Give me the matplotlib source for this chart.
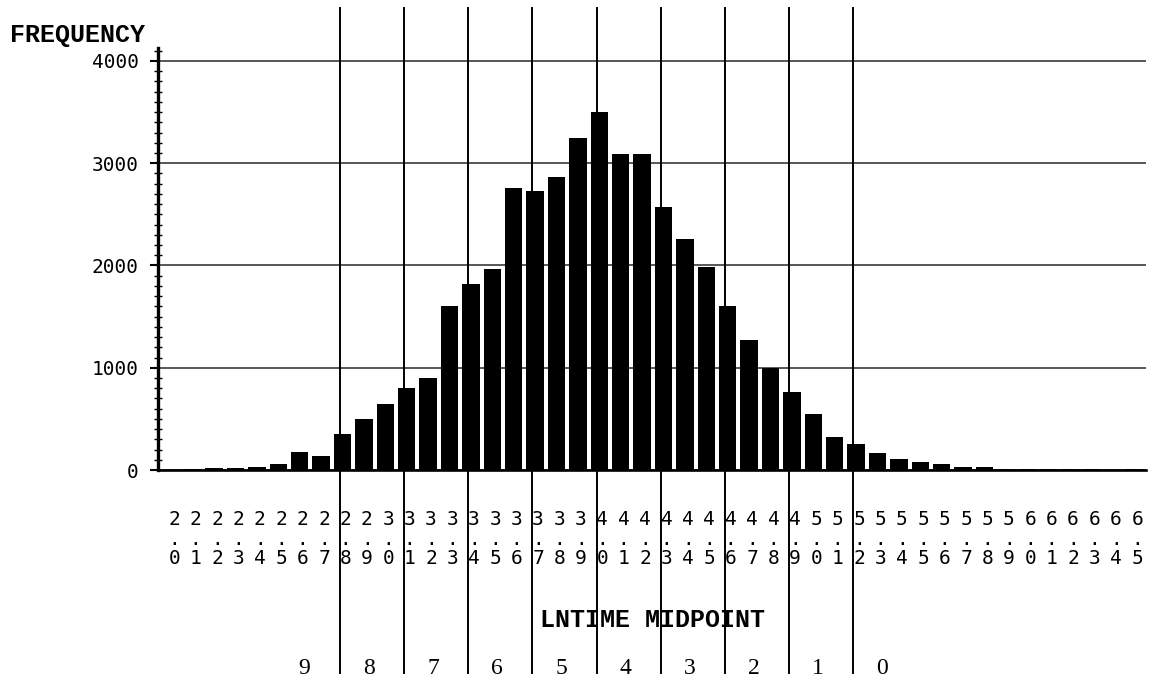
import numpy as np
import matplotlib
matplotlib.use("Agg")
import matplotlib.pyplot as plt
from matplotlib.lines import Line2D
from matplotlib.transforms import blended_transform_factory, ScaledTranslation
from matplotlib.ticker import MultipleLocator

# LNTIME histogram: class midpoints and their frequencies
midpoints = [2.0, 2.1, 2.2, 2.3, 2.4, 2.5, 2.6, 2.7, 2.8, 2.9,
             3.0, 3.1, 3.2, 3.3, 3.4, 3.5, 3.6, 3.7, 3.8, 3.9,
             4.0, 4.1, 4.2, 4.3, 4.4, 4.5, 4.6, 4.7, 4.8, 4.9,
             5.0, 5.1, 5.2, 5.3, 5.4, 5.5, 5.6, 5.7, 5.8, 5.9,
             6.0, 6.1, 6.2, 6.3, 6.4, 6.5]
frequency = [4, 6, 16, 16, 29, 59, 173, 134, 352, 496,
             642, 805, 897, 1604, 1822, 1966, 2755, 2732, 2862, 3250,
             3504, 3094, 3094, 2569, 2262, 1990, 1607, 1271, 997, 763,
             551, 323, 254, 163, 108, 81, 55, 26, 26, 13,
             13, 13, 13, 13, 3, 13]

# group boundaries and the group numbers shown along the bottom
group_edges = [2.8, 3.1, 3.4, 3.7, 4.0, 4.3, 4.6, 4.9, 5.2]
group_labels = ["9", "8", "7", "6", "5", "4", "3", "2", "1", "0"]

y_ticks = [0, 1000, 2000, 3000, 4000]

W, H = 1157, 681
DPI = 100
fig = plt.figure(figsize=(W / DPI, H / DPI), dpi=DPI)
fig.patch.set_facecolor("white")

ax_left, ax_right, ax_bottom, ax_top = 158, 1146, 470, 48
ax = fig.add_axes([ax_left / W, 1 - ax_bottom / H,
                   (ax_right - ax_left) / W, (ax_bottom - ax_top) / H])

ax.bar(midpoints, frequency, width=0.081, color="black",
       edgecolor="none", zorder=3)

ax.set_xlim(1.938, 6.555)
ax.set_ylim(0, 4127)
ax.set_axisbelow(True)

# horizontal reference lines
ax.yaxis.grid(True, which="major", color="#4a4a4a", linewidth=1.3)
ax.xaxis.grid(False)

for side in ("top", "right"):
    ax.spines[side].set_visible(False)
ax.spines["left"].set_linewidth(2.4)
ax.spines["bottom"].set_linewidth(1.9)
ax.spines["left"].set_color("black")
ax.spines["bottom"].set_color("black")

# y axis ticks and labels
tick_font = {"family": "DejaVu Sans Mono", "size": 14}
ax.set_yticks(y_ticks)
ax.set_yticklabels([str(v) for v in y_ticks], fontdict=tick_font)
ax.yaxis.set_minor_locator(MultipleLocator(100))
ax.tick_params(axis="y", which="major", direction="out", length=6,
               width=1.5, pad=8, colors="black")
ax.tick_params(axis="y", which="minor", direction="inout", length=6,
               width=1.0, colors="black")

# x tick labels written vertically: digit, point, digit
ax.set_xticks(midpoints)
ax.set_xticklabels(["\n".join(f"{m:.1f}") for m in midpoints],
                   fontdict=tick_font, linespacing=1.02)
ax.tick_params(axis="x", which="both", length=0, pad=29)
shift = ScaledTranslation(3 / DPI, 0, fig.dpi_scale_trans)
for lab in ax.get_xticklabels():
    lab.set_transform(lab.get_transform() + shift)

label_font = {"family": "Liberation Mono", "size": 18, "weight": "bold"}
fig.text(10 / W, 1 - 35 / H, "FREQUENCY", fontdict=label_font,
         ha="left", va="center")
ax.text(0.5, 1 - 620 / H, "LNTIME MIDPOINT", fontdict=label_font,
        ha="center", va="center",
        transform=blended_transform_factory(ax.transAxes, fig.transFigure))

# full-height group boundary lines
trans = blended_transform_factory(ax.transData, fig.transFigure)
edge_shift = -0.012
for e in group_edges:
    fig.add_artist(Line2D([e + edge_shift, e + edge_shift],
                          [1 - 8 / H, 1 - 673 / H], transform=trans,
                          color="black", linewidth=1.4))

edges = np.array(group_edges)
centres = np.append(edges - 0.15, edges[-1] + 0.15) - 0.027
for c, g in zip(centres, group_labels):
    fig.text(c, 1 - 668 / H, g, transform=trans, ha="center", va="center",
             family="Liberation Serif", size=17)

fig.savefig("out.png", dpi=DPI, facecolor="white")
